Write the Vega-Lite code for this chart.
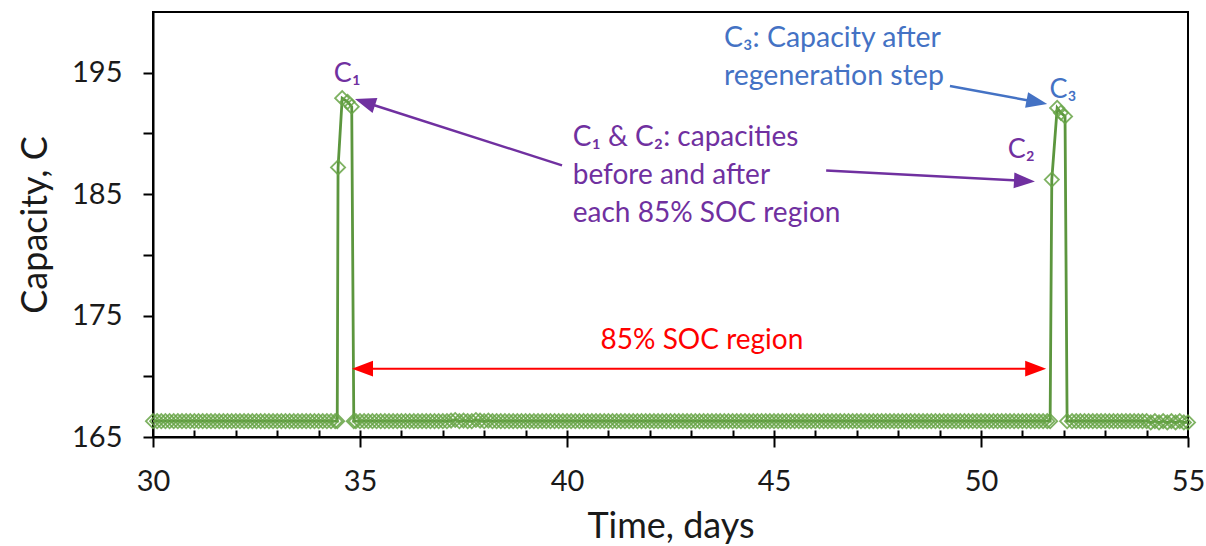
{
  "$schema": "https://vega.github.io/schema/vega-lite/v6.json",
  "width": 1035,
  "height": 425,
  "autosize": {"type": "none"},
  "padding": {"left": 153, "top": 12, "right": 18, "bottom": 109},
  "background": "#ffffff",
  "config": {
    "view": {"stroke": "#000000", "strokeWidth": 2},
    "font": "Lato",
    "text": {"font": "Lato"}
  },
  "datasets": {
    "capacity": [
      {"t":30.0,"c":166.3},{"t":30.1,"c":166.3},{"t":30.2,"c":166.3},{"t":30.3,"c":166.3},{"t":30.4,"c":166.3},
      {"t":30.5,"c":166.3},{"t":30.6,"c":166.3},{"t":30.7,"c":166.3},{"t":30.8,"c":166.3},{"t":30.9,"c":166.3},
      {"t":31.0,"c":166.3},{"t":31.1,"c":166.3},{"t":31.2,"c":166.3},{"t":31.3,"c":166.3},{"t":31.4,"c":166.3},
      {"t":31.5,"c":166.3},{"t":31.6,"c":166.3},{"t":31.7,"c":166.3},{"t":31.8,"c":166.3},{"t":31.9,"c":166.3},
      {"t":32.0,"c":166.3},{"t":32.1,"c":166.3},{"t":32.2,"c":166.3},{"t":32.3,"c":166.3},{"t":32.4,"c":166.3},
      {"t":32.5,"c":166.3},{"t":32.6,"c":166.3},{"t":32.7,"c":166.3},{"t":32.8,"c":166.3},{"t":32.9,"c":166.3},
      {"t":33.0,"c":166.3},{"t":33.1,"c":166.3},{"t":33.2,"c":166.3},{"t":33.3,"c":166.3},{"t":33.4,"c":166.3},
      {"t":33.5,"c":166.3},{"t":33.6,"c":166.3},{"t":33.7,"c":166.3},{"t":33.8,"c":166.3},{"t":33.9,"c":166.3},
      {"t":34.0,"c":166.3},{"t":34.1,"c":166.3},{"t":34.2,"c":166.3},{"t":34.3,"c":166.3},{"t":34.4,"c":166.3},
      {"t":34.45,"c":166.3},{"t":34.47,"c":187.2},{"t":34.57,"c":192.9},{"t":34.7,"c":192.6},{"t":34.8,"c":192.2},
      {"t":34.85,"c":166.3},
      {"t":34.9,"c":166.3},{"t":35.0,"c":166.3},{"t":35.1,"c":166.3},{"t":35.2,"c":166.3},{"t":35.3,"c":166.3},
      {"t":35.4,"c":166.3},{"t":35.5,"c":166.3},{"t":35.6,"c":166.3},{"t":35.7,"c":166.3},{"t":35.8,"c":166.3},
      {"t":35.9,"c":166.3},{"t":36.0,"c":166.3},{"t":36.1,"c":166.3},{"t":36.2,"c":166.3},{"t":36.3,"c":166.3},
      {"t":36.4,"c":166.3},{"t":36.5,"c":166.3},{"t":36.6,"c":166.3},{"t":36.7,"c":166.3},{"t":36.8,"c":166.3},
      {"t":36.9,"c":166.3},{"t":37.0,"c":166.3},{"t":37.1,"c":166.3},{"t":37.2,"c":166.35},{"t":37.3,"c":166.4},
      {"t":37.4,"c":166.3},{"t":37.5,"c":166.35},{"t":37.6,"c":166.3},{"t":37.7,"c":166.3},{"t":37.8,"c":166.4},
      {"t":37.9,"c":166.35},{"t":38.0,"c":166.3},{"t":38.1,"c":166.35},{"t":38.2,"c":166.3},{"t":38.3,"c":166.3},
      {"t":38.4,"c":166.3},{"t":38.5,"c":166.3},{"t":38.6,"c":166.3},{"t":38.7,"c":166.3},{"t":38.8,"c":166.3},
      {"t":38.9,"c":166.3},{"t":39.0,"c":166.3},{"t":39.1,"c":166.3},{"t":39.2,"c":166.3},{"t":39.3,"c":166.3},
      {"t":39.4,"c":166.3},{"t":39.5,"c":166.3},{"t":39.6,"c":166.3},{"t":39.7,"c":166.3},{"t":39.8,"c":166.3},
      {"t":39.9,"c":166.3},{"t":40.0,"c":166.3},{"t":40.1,"c":166.3},{"t":40.2,"c":166.3},{"t":40.3,"c":166.3},
      {"t":40.4,"c":166.3},{"t":40.5,"c":166.3},{"t":40.6,"c":166.3},{"t":40.7,"c":166.3},{"t":40.8,"c":166.3},
      {"t":40.9,"c":166.3},{"t":41.0,"c":166.3},{"t":41.1,"c":166.3},{"t":41.2,"c":166.3},{"t":41.3,"c":166.3},
      {"t":41.4,"c":166.3},{"t":41.5,"c":166.3},{"t":41.6,"c":166.3},{"t":41.7,"c":166.3},{"t":41.8,"c":166.3},
      {"t":41.9,"c":166.3},{"t":42.0,"c":166.3},{"t":42.1,"c":166.3},{"t":42.2,"c":166.3},{"t":42.3,"c":166.3},
      {"t":42.4,"c":166.3},{"t":42.5,"c":166.3},{"t":42.6,"c":166.3},{"t":42.7,"c":166.3},{"t":42.8,"c":166.3},
      {"t":42.9,"c":166.3},{"t":43.0,"c":166.3},{"t":43.1,"c":166.3},{"t":43.2,"c":166.3},{"t":43.3,"c":166.3},
      {"t":43.4,"c":166.3},{"t":43.5,"c":166.3},{"t":43.6,"c":166.3},{"t":43.7,"c":166.3},{"t":43.8,"c":166.3},
      {"t":43.9,"c":166.3},{"t":44.0,"c":166.3},{"t":44.1,"c":166.3},{"t":44.2,"c":166.3},{"t":44.3,"c":166.3},
      {"t":44.4,"c":166.3},{"t":44.5,"c":166.3},{"t":44.6,"c":166.3},{"t":44.7,"c":166.3},{"t":44.8,"c":166.3},
      {"t":44.9,"c":166.3},{"t":45.0,"c":166.3},{"t":45.1,"c":166.3},{"t":45.2,"c":166.3},{"t":45.3,"c":166.3},
      {"t":45.4,"c":166.3},{"t":45.5,"c":166.3},{"t":45.6,"c":166.3},{"t":45.7,"c":166.3},{"t":45.8,"c":166.3},
      {"t":45.9,"c":166.3},{"t":46.0,"c":166.3},{"t":46.1,"c":166.3},{"t":46.2,"c":166.3},{"t":46.3,"c":166.3},
      {"t":46.4,"c":166.3},{"t":46.5,"c":166.3},{"t":46.6,"c":166.3},{"t":46.7,"c":166.3},{"t":46.8,"c":166.3},
      {"t":46.9,"c":166.3},{"t":47.0,"c":166.3},{"t":47.1,"c":166.3},{"t":47.2,"c":166.3},{"t":47.3,"c":166.3},
      {"t":47.4,"c":166.3},{"t":47.5,"c":166.3},{"t":47.6,"c":166.3},{"t":47.7,"c":166.3},{"t":47.8,"c":166.3},
      {"t":47.9,"c":166.3},{"t":48.0,"c":166.3},{"t":48.1,"c":166.3},{"t":48.2,"c":166.3},{"t":48.3,"c":166.3},
      {"t":48.4,"c":166.3},{"t":48.5,"c":166.3},{"t":48.6,"c":166.3},{"t":48.7,"c":166.3},{"t":48.8,"c":166.3},
      {"t":48.9,"c":166.3},{"t":49.0,"c":166.3},{"t":49.1,"c":166.3},{"t":49.2,"c":166.3},{"t":49.3,"c":166.3},
      {"t":49.4,"c":166.3},{"t":49.5,"c":166.3},{"t":49.6,"c":166.3},{"t":49.7,"c":166.3},{"t":49.8,"c":166.3},
      {"t":49.9,"c":166.3},{"t":50.0,"c":166.3},{"t":50.1,"c":166.3},{"t":50.2,"c":166.3},{"t":50.3,"c":166.3},
      {"t":50.4,"c":166.3},{"t":50.5,"c":166.3},{"t":50.6,"c":166.3},{"t":50.7,"c":166.3},{"t":50.8,"c":166.3},
      {"t":50.9,"c":166.3},{"t":51.0,"c":166.3},{"t":51.1,"c":166.3},{"t":51.2,"c":166.3},{"t":51.3,"c":166.3},
      {"t":51.4,"c":166.3},{"t":51.5,"c":166.3},{"t":51.6,"c":166.3},
      {"t":51.67,"c":166.3},{"t":51.71,"c":186.2},{"t":51.84,"c":192.1},{"t":51.93,"c":191.7},{"t":52.03,"c":191.4},
      {"t":52.08,"c":166.3},
      {"t":52.2,"c":166.3},{"t":52.3,"c":166.3},{"t":52.4,"c":166.3},{"t":52.5,"c":166.3},{"t":52.6,"c":166.3},
      {"t":52.7,"c":166.3},{"t":52.8,"c":166.3},{"t":52.9,"c":166.3},{"t":53.0,"c":166.3},{"t":53.1,"c":166.3},
      {"t":53.2,"c":166.3},{"t":53.3,"c":166.3},{"t":53.4,"c":166.3},{"t":53.5,"c":166.3},{"t":53.6,"c":166.3},
      {"t":53.7,"c":166.3},{"t":53.8,"c":166.3},{"t":53.9,"c":166.3},{"t":54.0,"c":166.3},{"t":54.1,"c":166.2},
      {"t":54.2,"c":166.3},{"t":54.3,"c":166.2},{"t":54.4,"c":166.3},{"t":54.5,"c":166.2},{"t":54.6,"c":166.3},
      {"t":54.7,"c":166.2},{"t":54.8,"c":166.3},{"t":54.9,"c":166.2},{"t":55.0,"c":166.2}
    ]
  },
  "encoding": {
    "x": {"field": "t", "type": "quantitative", "scale": {"domain": [30, 55], "nice": false, "zero": false}, "axis": null},
    "y": {"field": "c", "type": "quantitative", "scale": {"domain": [165, 200], "nice": false, "zero": false}, "axis": null}
  },
  "resolve": {"axis": {"x": "independent", "y": "independent"}},
  "layer": [
    {
      "data": {"name": "capacity"},
      "mark": {"type": "line", "color": "#5C963E", "strokeWidth": 2.8},
      "encoding": {
        "x": {
          "field": "t", "type": "quantitative",
          "scale": {"domain": [30, 55], "nice": false, "zero": false},
          "axis": {
            "orient": "bottom", "values": [30, 35, 40, 45, 50, 55], "grid": false,
            "domainColor": "#000000", "domainWidth": 2,
            "tickColor": "#000000", "tickWidth": 2, "tickSize": 10,
            "labelFontSize": 29, "labelColor": "#1a1a1a", "labelPadding": 20, "labelFlush": false, "labelFont": "Lato",
            "title": "Time, days", "titleFontSize": 36, "titleFontWeight": "normal", "titleColor": "#1a1a1a",
            "titlePadding": 13, "titleFont": "Lato"
          }
        },
        "y": {
          "field": "c", "type": "quantitative",
          "scale": {"domain": [165, 200], "nice": false, "zero": false},
          "axis": {
            "orient": "left", "values": [165, 175, 185, 195], "grid": false,
            "domainColor": "#000000", "domainWidth": 2,
            "tickColor": "#000000", "tickWidth": 2, "tickSize": 10,
            "labelFontSize": 29, "labelColor": "#1a1a1a", "labelPadding": 21, "labelFont": "Lato",
            "title": "Capacity, C", "titleFontSize": 36, "titleFontWeight": "normal", "titleColor": "#1a1a1a",
            "titlePadding": 17, "titleFont": "Lato"
          }
        }
      }
    },
    {
      "data": {"name": "capacity"},
      "mark": {"type": "point", "shape": "diamond", "filled": false, "color": "#68A547", "size": 200, "strokeWidth": 1.8, "opacity": 0.85},
      "encoding": {
        "x": {
          "field": "t", "type": "quantitative",
          "scale": {"domain": [30, 55], "nice": false, "zero": false},
          "axis": {
            "orient": "bottom", "domain": false, "labels": false, "title": null, "grid": false,
            "values": [31,32,33,34,35,36,37,38,39,40,41,42,43,44,45,46,47,48,49,50,51,52,53,54],
            "tickColor": "#000000", "tickWidth": 2, "tickSize": -7
          }
        },
        "y": {
          "field": "c", "type": "quantitative",
          "scale": {"domain": [165, 200], "nice": false, "zero": false},
          "axis": {
            "orient": "left", "domain": false, "labels": false, "title": null, "grid": false,
            "values": [170, 180, 190],
            "tickColor": "#000000", "tickWidth": 2, "tickSize": 10
          }
        }
      }
    },
    {
      "data": {"values": [
        {"t": 39.88, "c": 187.37, "t2": 35.12, "c2": 192.57},
        {"t": 46.26, "c": 186.95, "t2": 51.05, "c2": 186.09}
      ]},
      "mark": {"type": "rule", "color": "#7030A0", "strokeWidth": 2.5},
      "encoding": {"x2": {"field": "t2"}, "y2": {"field": "c2"}}
    },
    {
      "data": {"values": [{"t": 49.25, "c": 193.9, "t2": 51.35, "c2": 192.59}]},
      "mark": {"type": "rule", "color": "#4472C4", "strokeWidth": 2.5},
      "encoding": {"x2": {"field": "t2"}, "y2": {"field": "c2"}}
    },
    {
      "data": {"values": [{"t": 35.06, "c": 170.63, "t2": 51.32, "c2": 170.63}]},
      "mark": {"type": "rule", "color": "#FF0000", "strokeWidth": 2},
      "encoding": {"x2": {"field": "t2"}, "y2": {"field": "c2"}}
    },
    {
      "data": {"values": [{"t": 35.12, "c": 192.57}]},
      "mark": {"type": "point", "shape": "M1,0L-1,-0.75L-1,0.75Z", "filled": true, "color": "#7030A0", "size": 440, "angle": 197.8, "opacity": 1}
    },
    {
      "data": {"values": [{"t": 51.05, "c": 186.09}]},
      "mark": {"type": "point", "shape": "M1,0L-1,-0.75L-1,0.75Z", "filled": true, "color": "#7030A0", "size": 440, "angle": 3, "opacity": 1}
    },
    {
      "data": {"values": [{"t": 51.35, "c": 192.59}]},
      "mark": {"type": "point", "shape": "M1,0L-1,-0.75L-1,0.75Z", "filled": true, "color": "#4472C4", "size": 440, "angle": 10.9, "opacity": 1}
    },
    {
      "data": {"values": [{"t": 35.06, "c": 170.63}]},
      "mark": {"type": "point", "shape": "M1,0L-1,-0.75L-1,0.75Z", "filled": true, "color": "#FF0000", "size": 440, "angle": 180, "opacity": 1}
    },
    {
      "data": {"values": [{"t": 51.32, "c": 170.63}]},
      "mark": {"type": "point", "shape": "M1,0L-1,-0.75L-1,0.75Z", "filled": true, "color": "#FF0000", "size": 440, "angle": 0, "opacity": 1}
    },
    {
      "data": {"values": [
        {"t": 34.69, "c": 194.91, "label": "C₁"},
        {"t": 50.97, "c": 188.6, "label": "C₂"}
      ]},
      "mark": {"type": "text", "align": "center", "baseline": "middle", "fontSize": 27, "color": "#7030A0"},
      "encoding": {"text": {"field": "label"}}
    },
    {
      "data": {"values": [{"t": 51.98, "c": 193.58, "label": "C₃"}]},
      "mark": {"type": "text", "align": "center", "baseline": "middle", "fontSize": 27, "color": "#4472C4"},
      "encoding": {"text": {"field": "label"}}
    },
    {
      "data": {"values": [
        {"t": 40.14, "c": 189.61, "label": "C₁ & C₂: capacities"},
        {"t": 40.14, "c": 186.46, "label": "before and after"},
        {"t": 40.14, "c": 183.39, "label": "each 85% SOC region"}
      ]},
      "mark": {"type": "text", "align": "left", "baseline": "middle", "fontSize": 28, "color": "#7030A0"},
      "encoding": {"text": {"field": "label"}}
    },
    {
      "data": {"values": [
        {"t": 43.79, "c": 197.89, "label": "C₃: Capacity after"},
        {"t": 43.79, "c": 194.74, "label": "regeneration step"}
      ]},
      "mark": {"type": "text", "align": "left", "baseline": "middle", "fontSize": 28.5, "color": "#4472C4"},
      "encoding": {"text": {"field": "label"}}
    },
    {
      "data": {"values": [{"t": 43.26, "c": 172.87, "label": "85% SOC region"}]},
      "mark": {"type": "text", "align": "center", "baseline": "middle", "fontSize": 28, "color": "#FF0000"},
      "encoding": {"text": {"field": "label"}}
    }
  ]
}
